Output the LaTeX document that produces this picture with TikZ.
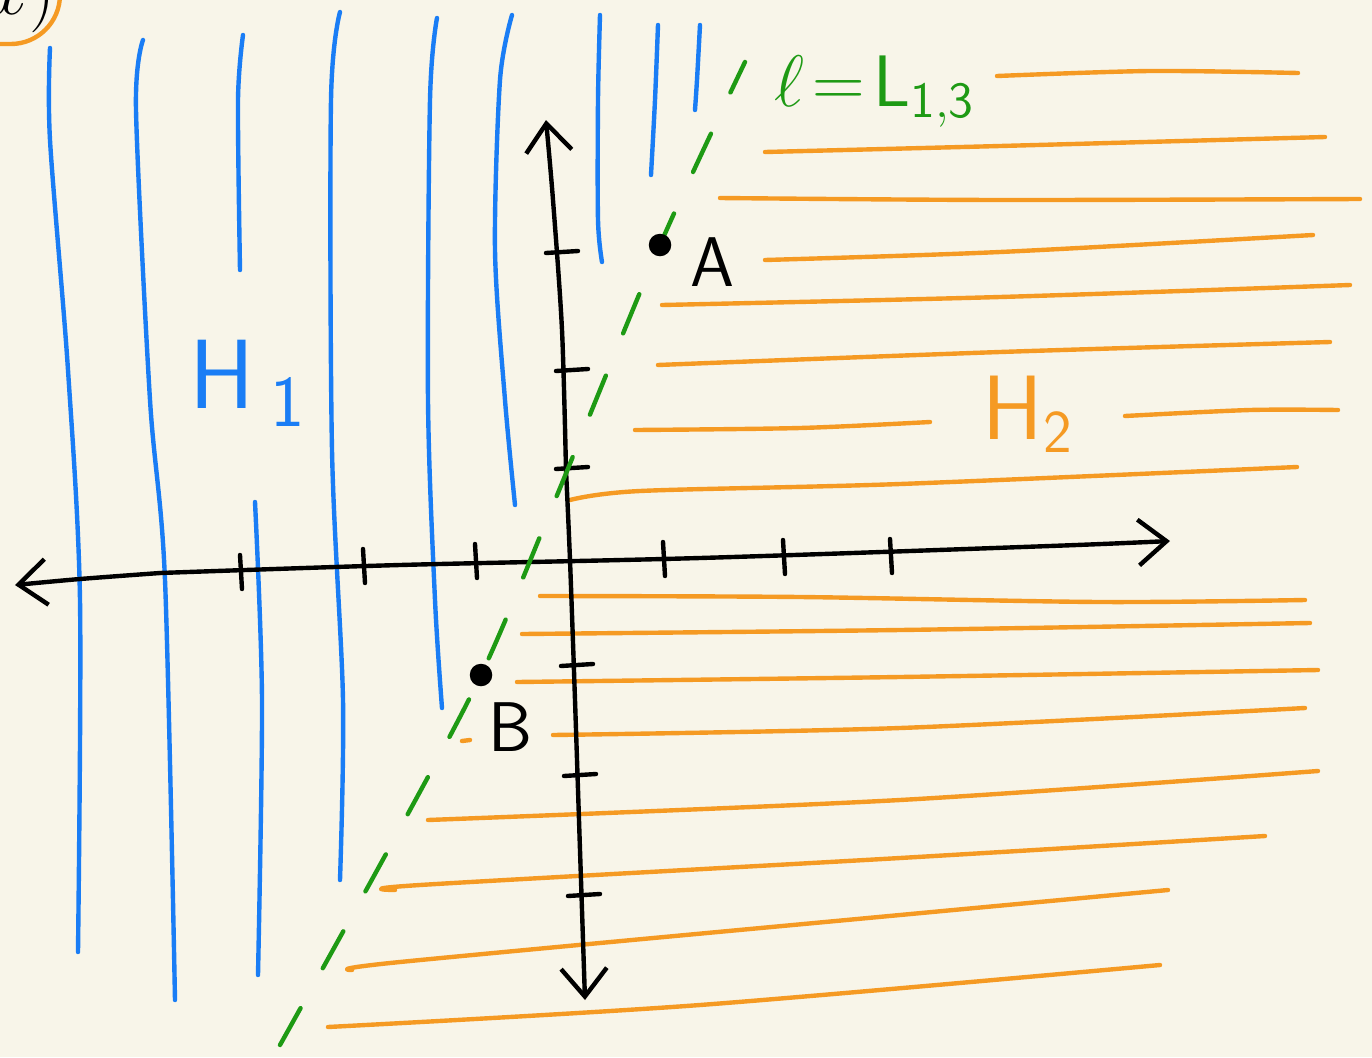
\documentclass[tikz,border=0pt]{standalone}
\usepackage{xcolor}
\usepackage{tikz}
\usetikzlibrary{arrows.meta}
\definecolor{sketchbg}{HTML}{F8F5E9}
\definecolor{sketchblue}{HTML}{1A7DF5}
\definecolor{sketchorange}{HTML}{F59A23}
\definecolor{sketchgreen}{HTML}{1E9A14}

\begin{document}
\begin{tikzpicture}[x=0.01cm, y=-0.01cm,
  pen/.style={line width=1.25pt, line cap=round, line join=round},
  hone/.style={pen, draw=sketchblue},
  htwo/.style={pen, draw=sketchorange},
  lline/.style={pen, draw=sketchgreen, dash pattern=on 12pt off 13pt},
  axis/.style={pen, draw=black},
  tip/.style={-{Straight Barb[length=8pt,width=13pt,line width=1.25pt]}},
  dot/.style={circle, fill=black, inner sep=0pt, minimum size=6.4pt},
  ptlabel/.style={font=\sffamily\fontsize{20}{20}\selectfont, inner sep=0pt}]
  \fill[sketchbg] (0,0) rectangle (1372,1057);
  \useasboundingbox (0,0) rectangle (1372,1057);
  \clip (0,0) rectangle (1372,1057);

  % corner box, cut off by the page
  \draw[htwo, rounded corners=14pt] (-60,-60) rectangle (60,44);
  \node[anchor=base, font=\fontsize{22}{22}\selectfont, inner sep=0pt] (boxtext) at (22,14) {$x)$};

  % H_1 (blue)
  \draw[hone] plot[smooth] coordinates {(50,48) (50,140) (68,370) (80,600) (78,952)};
  \draw[hone] plot[smooth] coordinates {(143,40) (136,110) (150,400) (165,580) (175,1000)};
  \draw[hone] plot[smooth] coordinates {(243,35) (238,100) (240,270)};
  \draw[hone] plot[smooth] coordinates {(255,502) (262,700) (258,975)};
  \draw[hone] plot[smooth] coordinates {(340,12) (331,100) (332,450) (343,700) (340,880)};
  \draw[hone] plot[smooth] coordinates {(437,18) (430,100) (428,400) (435,600) (442,708)};
  \draw[hone] plot[smooth] coordinates {(512,15) (500,80) (495,250) (505,400) (515,505)};
  \draw[hone] plot[smooth] coordinates {(600,15) (598,100) (598,220) (602,262)};
  \draw[hone] plot[smooth] coordinates {(658,25) (655,100) (651,175)};
  \draw[hone] plot[smooth] coordinates {(700,25) (697,80) (695,110)};
  \node[text=sketchblue, font=\sffamily\fontsize{28}{28}\selectfont] (hlabel) at (248,383) {H\,$_{\mathsf{1}}$};

  % H_2 (orange)
  \draw[htwo] plot[smooth] coordinates {(997,76) (1150,71) (1298,73)};
  \draw[htwo] plot[smooth] coordinates {(765,152) (1000,146) (1325,137)};
  \draw[htwo] plot[smooth] coordinates {(720,198) (1000,200) (1360,199)};
  \draw[htwo] plot[smooth] coordinates {(765,260) (1000,252) (1313,235)};
  \draw[htwo] plot[smooth] coordinates {(662,305) (1000,297) (1350,285)};
  \draw[htwo] plot[smooth] coordinates {(658,365) (1000,352) (1330,342)};
  \draw[htwo] plot[smooth] coordinates {(635,430) (800,428) (930,422)};
  \draw[htwo] plot[smooth] coordinates {(1125,416) (1250,410) (1338,410)};
  \draw[htwo] plot[smooth] coordinates {(570,500) (640,491) (900,484) (1297,467)};
  \draw[htwo] plot[smooth] coordinates {(540,596) (800,597) (1100,602) (1305,600)};
  \draw[htwo] plot[smooth] coordinates {(522,634) (900,630) (1310,623)};
  \draw[htwo] plot[smooth] coordinates {(517,682) (900,677) (1318,670)};
  \draw[htwo] (462,741) -- (470,740);
  \draw[htwo] plot[smooth] coordinates {(553,735) (900,728) (1305,708)};
  \draw[htwo] plot[smooth] coordinates {(428,820) (900,800) (1318,771)};
  \draw[htwo] plot[smooth] coordinates {(395,890) (420,885) (900,858) (1265,836)};
  \draw[htwo] plot[smooth] coordinates {(352,970) (400,962) (900,915) (1168,890)};
  \draw[htwo] plot[smooth] coordinates {(328,1027) (700,1005) (1160,965)};
  \node[text=sketchorange, font=\sffamily\fontsize{26}{26}\selectfont] (htwolabel) at (1028,414) {H$_{\mathsf{2}}$};

  % axes
  \draw[axis, tip] plot[smooth] coordinates {(160,573) (400,565) (700,558) (1050,546) (1170,541)};
  \draw[axis, tip] plot[smooth] coordinates {(160,573) (80,579) (15,585)};
  \draw[axis, tip] plot[smooth] coordinates {(566,470) (562,330) (553,200) (546,120)};
  \draw[axis, tip] plot[smooth] coordinates {(566,470) (570,560) (575,700) (580,850) (585,1000)};
  \foreach \x/\y in {240/572, 363/566, 475/561, 663/559, 783/557, 890/556}
    \draw[axis] (\x,\y-17) -- (\x+2,\y+17);
  \foreach \x/\y in {562/252, 572/370, 572/468, 577/665, 580/775, 584/895}
    \draw[axis] (\x-16,\y+1) -- (\x+16,\y-1);

  % the line l
  \draw[lline] plot[smooth] coordinates {(280,1045) (392,843) (481,675) (553,505) (660,245) (745,62)};
  \node[text=sketchgreen, font=\fontsize{22}{22}\selectfont, anchor=west] (llabel) at (762,92) {$\ell\mkern2mu{=}\mkern2mu\mathsf{L}_{\mathsf{1,3}}$};

  % points
  \node[dot] (A) at (660,245) {};
  \node[dot] (B) at (481,675) {};
  \node[ptlabel] (Alabel) at (712,262) {A};
  \node[ptlabel] (Blabel) at (511,727) {B};
\end{tikzpicture}
\end{document}
